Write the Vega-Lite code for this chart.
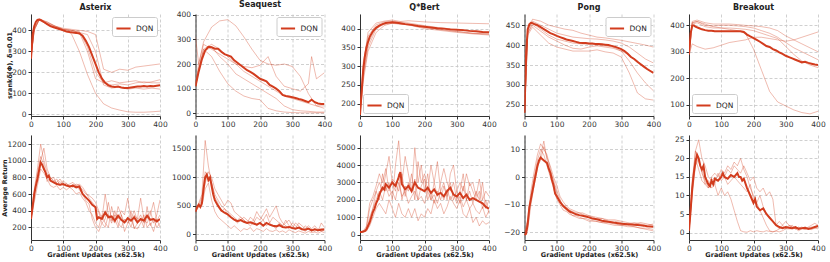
{
"$schema": "https://vega.github.io/schema/vega-lite/v6.json",
"padding": {"left": 1, "top": 0, "right": 2, "bottom": 1},
"background": "white",
"bounds": "flush",
"columns": 5,
"spacing": {"row": 19, "column": 35.5},
"resolve": {"scale": {"color": "independent"}, "legend": {"color": "independent"}},
"config": {
  "font": "DejaVu Sans",
  "view": {"stroke": null},
  "axis": {"labelFontSize": 7.5, "labelColor": "#333", "domainColor": "#333", "tickColor": "#333", "tickSize": 3, "gridColor": "#c4c4c4", "gridDash": [3, 2], "gridWidth": 0.8, "titleFontSize": 6.5, "titleFontWeight": "bold", "titleColor": "#222", "labelPadding": 2, "labelFlush": false, "labelOverlap": false, "format": "d", "titlePadding": 3},
  "axisX": {"titlePadding": 0, "labelPadding": 1},
  "title": {"fontSize": 8, "fontWeight": "bold", "offset": 2, "color": "#222"},
  "legend": {"title": null, "strokeColor": "#cccccc", "fillColor": "white", "padding": 3, "cornerRadius": 2, "symbolType": "stroke", "symbolStrokeWidth": 2, "symbolSize": 200, "labelFontSize": 7.5, "labelColor": "#222", "offset": 3, "rowPadding": 0}
},
"datasets": {
"a1": [
{"s":0,"x":0,"y":265},{"s":0,"x":5,"y":380},{"s":0,"x":10,"y":420},{"s":0,"x":15,"y":440},{"s":0,"x":20,"y":450},{"s":0,"x":25,"y":452},{"s":0,"x":30,"y":450},{"s":0,"x":40,"y":440},{"s":0,"x":50,"y":430},{"s":0,"x":60,"y":420},{"s":0,"x":70,"y":415},{"s":0,"x":80,"y":410},{"s":0,"x":90,"y":405},{"s":0,"x":100,"y":400},{"s":0,"x":110,"y":395},{"s":0,"x":120,"y":392},{"s":0,"x":130,"y":390},{"s":0,"x":140,"y":388},{"s":0,"x":150,"y":385},{"s":0,"x":160,"y":375},{"s":0,"x":170,"y":350},{"s":0,"x":180,"y":320},{"s":0,"x":190,"y":280},{"s":0,"x":200,"y":240},{"s":0,"x":210,"y":200},{"s":0,"x":220,"y":170},{"s":0,"x":230,"y":150},{"s":0,"x":240,"y":138},{"s":0,"x":250,"y":133},{"s":0,"x":260,"y":130},{"s":0,"x":270,"y":132},{"s":0,"x":280,"y":128},{"s":0,"x":290,"y":125},{"s":0,"x":300,"y":125},{"s":0,"x":310,"y":128},{"s":0,"x":320,"y":130},{"s":0,"x":330,"y":132},{"s":0,"x":340,"y":133},{"s":0,"x":350,"y":135},{"s":0,"x":360,"y":133},{"s":0,"x":370,"y":135},{"s":0,"x":380,"y":134},{"s":0,"x":390,"y":136},{"s":0,"x":400,"y":138},
{"s":1,"x":0,"y":270},{"s":1,"x":10,"y":400},{"s":1,"x":25,"y":450},{"s":1,"x":50,"y":430},{"s":1,"x":75,"y":415},{"s":1,"x":100,"y":400},{"s":1,"x":125,"y":385},{"s":1,"x":150,"y":300},{"s":1,"x":175,"y":190},{"s":1,"x":200,"y":100},{"s":1,"x":225,"y":50},{"s":1,"x":250,"y":30},{"s":1,"x":275,"y":20},{"s":1,"x":300,"y":12},{"s":1,"x":325,"y":10},{"s":1,"x":350,"y":10},{"s":1,"x":375,"y":12},{"s":1,"x":400,"y":15},
{"s":2,"x":0,"y":270},{"s":2,"x":10,"y":410},{"s":2,"x":25,"y":455},{"s":2,"x":50,"y":440},{"s":2,"x":75,"y":420},{"s":2,"x":100,"y":405},{"s":2,"x":125,"y":400},{"s":2,"x":150,"y":390},{"s":2,"x":175,"y":300},{"s":2,"x":200,"y":170},{"s":2,"x":225,"y":150},{"s":2,"x":250,"y":160},{"s":2,"x":275,"y":150},{"s":2,"x":300,"y":155},{"s":2,"x":325,"y":160},{"s":2,"x":350,"y":150},{"s":2,"x":375,"y":155},{"s":2,"x":400,"y":165},
{"s":3,"x":0,"y":270},{"s":3,"x":10,"y":400},{"s":3,"x":25,"y":450},{"s":3,"x":50,"y":435},{"s":3,"x":75,"y":420},{"s":3,"x":100,"y":410},{"s":3,"x":125,"y":405},{"s":3,"x":150,"y":400},{"s":3,"x":175,"y":395},{"s":3,"x":200,"y":380},{"s":3,"x":225,"y":215},{"s":3,"x":250,"y":200},{"s":3,"x":275,"y":215},{"s":3,"x":300,"y":210},{"s":3,"x":325,"y":225},{"s":3,"x":350,"y":230},{"s":3,"x":375,"y":235},{"s":3,"x":400,"y":240},
{"s":4,"x":0,"y":270},{"s":4,"x":10,"y":405},{"s":4,"x":25,"y":448},{"s":4,"x":50,"y":430},{"s":4,"x":75,"y":415},{"s":4,"x":100,"y":405},{"s":4,"x":125,"y":400},{"s":4,"x":150,"y":390},{"s":4,"x":175,"y":380},{"s":4,"x":200,"y":300},{"s":4,"x":225,"y":140},{"s":4,"x":250,"y":125},{"s":4,"x":275,"y":130},{"s":4,"x":300,"y":120},{"s":4,"x":325,"y":125},{"s":4,"x":350,"y":120},{"s":4,"x":375,"y":125},{"s":4,"x":400,"y":120},
{"s":5,"x":0,"y":270},{"s":5,"x":10,"y":410},{"s":5,"x":25,"y":452},{"s":5,"x":50,"y":440},{"s":5,"x":75,"y":420},{"s":5,"x":100,"y":405},{"s":5,"x":125,"y":400},{"s":5,"x":150,"y":395},{"s":5,"x":175,"y":320},{"s":5,"x":200,"y":200},{"s":5,"x":225,"y":150},{"s":5,"x":250,"y":140},{"s":5,"x":275,"y":145},{"s":5,"x":300,"y":140},{"s":5,"x":325,"y":150},{"s":5,"x":350,"y":155},{"s":5,"x":375,"y":150},{"s":5,"x":400,"y":150}
],
"a2": [
{"s":0,"x":0,"y":110},{"s":0,"x":10,"y":170},{"s":0,"x":20,"y":220},{"s":0,"x":30,"y":255},{"s":0,"x":40,"y":270},{"s":0,"x":50,"y":268},{"s":0,"x":60,"y":262},{"s":0,"x":70,"y":262},{"s":0,"x":80,"y":250},{"s":0,"x":90,"y":240},{"s":0,"x":100,"y":235},{"s":0,"x":110,"y":230},{"s":0,"x":120,"y":215},{"s":0,"x":130,"y":205},{"s":0,"x":140,"y":195},{"s":0,"x":150,"y":185},{"s":0,"x":160,"y":175},{"s":0,"x":170,"y":168},{"s":0,"x":180,"y":160},{"s":0,"x":190,"y":150},{"s":0,"x":200,"y":140},{"s":0,"x":210,"y":135},{"s":0,"x":220,"y":130},{"s":0,"x":230,"y":115},{"s":0,"x":240,"y":108},{"s":0,"x":250,"y":100},{"s":0,"x":260,"y":90},{"s":0,"x":270,"y":75},{"s":0,"x":280,"y":70},{"s":0,"x":290,"y":68},{"s":0,"x":300,"y":65},{"s":0,"x":310,"y":62},{"s":0,"x":320,"y":58},{"s":0,"x":330,"y":55},{"s":0,"x":340,"y":50},{"s":0,"x":350,"y":45},{"s":0,"x":360,"y":55},{"s":0,"x":370,"y":45},{"s":0,"x":380,"y":40},{"s":0,"x":390,"y":38},{"s":0,"x":400,"y":38},
{"s":1,"x":0,"y":120},{"s":1,"x":10,"y":200},{"s":1,"x":25,"y":290},{"s":1,"x":50,"y":350},{"s":1,"x":75,"y":375},{"s":1,"x":100,"y":380},{"s":1,"x":125,"y":355},{"s":1,"x":150,"y":310},{"s":1,"x":175,"y":260},{"s":1,"x":200,"y":215},{"s":1,"x":225,"y":200},{"s":1,"x":250,"y":195},{"s":1,"x":275,"y":200},{"s":1,"x":300,"y":190},{"s":1,"x":325,"y":150},{"s":1,"x":350,"y":80},{"s":1,"x":375,"y":30},{"s":1,"x":400,"y":20},
{"s":2,"x":0,"y":310},{"s":2,"x":10,"y":200},{"s":2,"x":25,"y":280},{"s":2,"x":50,"y":260},{"s":2,"x":75,"y":240},{"s":2,"x":100,"y":220},{"s":2,"x":125,"y":200},{"s":2,"x":150,"y":190},{"s":2,"x":175,"y":185},{"s":2,"x":200,"y":195},{"s":2,"x":225,"y":230},{"s":2,"x":250,"y":150},{"s":2,"x":275,"y":110},{"s":2,"x":300,"y":100},{"s":2,"x":325,"y":90},{"s":2,"x":350,"y":120},{"s":2,"x":360,"y":230},{"s":2,"x":375,"y":140},{"s":2,"x":400,"y":165},
{"s":3,"x":0,"y":110},{"s":3,"x":10,"y":180},{"s":3,"x":25,"y":260},{"s":3,"x":50,"y":230},{"s":3,"x":75,"y":170},{"s":3,"x":100,"y":120},{"s":3,"x":125,"y":90},{"s":3,"x":150,"y":70},{"s":3,"x":175,"y":60},{"s":3,"x":200,"y":55},{"s":3,"x":225,"y":20},{"s":3,"x":250,"y":10},{"s":3,"x":275,"y":5},{"s":3,"x":300,"y":3},{"s":3,"x":325,"y":2},{"s":3,"x":350,"y":2},{"s":3,"x":375,"y":2},{"s":3,"x":400,"y":2},
{"s":4,"x":0,"y":110},{"s":4,"x":10,"y":170},{"s":4,"x":25,"y":250},{"s":4,"x":50,"y":270},{"s":4,"x":75,"y":230},{"s":4,"x":100,"y":200},{"s":4,"x":125,"y":160},{"s":4,"x":150,"y":140},{"s":4,"x":175,"y":120},{"s":4,"x":200,"y":100},{"s":4,"x":225,"y":80},{"s":4,"x":250,"y":60},{"s":4,"x":275,"y":30},{"s":4,"x":300,"y":15},{"s":4,"x":325,"y":10},{"s":4,"x":350,"y":8},{"s":4,"x":375,"y":5},{"s":4,"x":400,"y":5},
{"s":5,"x":0,"y":110},{"s":5,"x":10,"y":180},{"s":5,"x":25,"y":260},{"s":5,"x":50,"y":280},{"s":5,"x":75,"y":260},{"s":5,"x":100,"y":230},{"s":5,"x":125,"y":200},{"s":5,"x":150,"y":170},{"s":5,"x":175,"y":150},{"s":5,"x":200,"y":130},{"s":5,"x":225,"y":110},{"s":5,"x":250,"y":90},{"s":5,"x":275,"y":70},{"s":5,"x":300,"y":60},{"s":5,"x":325,"y":50},{"s":5,"x":350,"y":40},{"s":5,"x":375,"y":30},{"s":5,"x":400,"y":30}
],
"a3": [
{"s":0,"x":0,"y":170},{"s":0,"x":5,"y":230},{"s":0,"x":10,"y":290},{"s":0,"x":15,"y":325},{"s":0,"x":20,"y":350},{"s":0,"x":25,"y":365},{"s":0,"x":30,"y":378},{"s":0,"x":40,"y":393},{"s":0,"x":50,"y":402},{"s":0,"x":60,"y":408},{"s":0,"x":70,"y":412},{"s":0,"x":80,"y":415},{"s":0,"x":90,"y":416},{"s":0,"x":100,"y":417},{"s":0,"x":120,"y":415},{"s":0,"x":140,"y":412},{"s":0,"x":160,"y":410},{"s":0,"x":180,"y":407},{"s":0,"x":200,"y":405},{"s":0,"x":220,"y":403},{"s":0,"x":240,"y":401},{"s":0,"x":260,"y":400},{"s":0,"x":280,"y":398},{"s":0,"x":300,"y":397},{"s":0,"x":320,"y":396},{"s":0,"x":340,"y":394},{"s":0,"x":360,"y":393},{"s":0,"x":380,"y":391},{"s":0,"x":400,"y":390},
{"s":1,"x":0,"y":175},{"s":1,"x":10,"y":300},{"s":1,"x":25,"y":390},{"s":1,"x":50,"y":415},{"s":1,"x":75,"y":420},{"s":1,"x":100,"y":423},{"s":1,"x":125,"y":419},{"s":1,"x":150,"y":421},{"s":1,"x":200,"y":418},{"s":1,"x":250,"y":416},{"s":1,"x":300,"y":415},{"s":1,"x":350,"y":414},{"s":1,"x":400,"y":413},
{"s":2,"x":0,"y":175},{"s":2,"x":10,"y":280},{"s":2,"x":25,"y":360},{"s":2,"x":50,"y":405},{"s":2,"x":75,"y":415},{"s":2,"x":100,"y":418},{"s":2,"x":150,"y":412},{"s":2,"x":200,"y":405},{"s":2,"x":250,"y":398},{"s":2,"x":300,"y":393},{"s":2,"x":350,"y":388},{"s":2,"x":400,"y":385},
{"s":3,"x":0,"y":170},{"s":3,"x":10,"y":260},{"s":3,"x":25,"y":340},{"s":3,"x":50,"y":390},{"s":3,"x":75,"y":408},{"s":3,"x":100,"y":415},{"s":3,"x":150,"y":410},{"s":3,"x":200,"y":400},{"s":3,"x":250,"y":395},{"s":3,"x":300,"y":390},{"s":3,"x":350,"y":386},{"s":3,"x":400,"y":383},
{"s":4,"x":0,"y":175},{"s":4,"x":10,"y":310},{"s":4,"x":25,"y":380},{"s":4,"x":50,"y":410},{"s":4,"x":75,"y":418},{"s":4,"x":100,"y":420},{"s":4,"x":150,"y":415},{"s":4,"x":200,"y":408},{"s":4,"x":250,"y":402},{"s":4,"x":300,"y":398},{"s":4,"x":350,"y":393},{"s":4,"x":400,"y":390},
{"s":5,"x":0,"y":170},{"s":5,"x":10,"y":270},{"s":5,"x":25,"y":350},{"s":5,"x":50,"y":400},{"s":5,"x":75,"y":412},{"s":5,"x":100,"y":414},{"s":5,"x":150,"y":410},{"s":5,"x":200,"y":403},{"s":5,"x":250,"y":397},{"s":5,"x":300,"y":392},{"s":5,"x":350,"y":387},{"s":5,"x":400,"y":386}
],
"a4": [
{"s":0,"x":0,"y":230},{"s":0,"x":5,"y":380},{"s":0,"x":10,"y":440},{"s":0,"x":15,"y":452},{"s":0,"x":20,"y":456},{"s":0,"x":25,"y":455},{"s":0,"x":30,"y":453},{"s":0,"x":40,"y":450},{"s":0,"x":50,"y":445},{"s":0,"x":60,"y":440},{"s":0,"x":70,"y":435},{"s":0,"x":80,"y":430},{"s":0,"x":90,"y":427},{"s":0,"x":100,"y":423},{"s":0,"x":110,"y":420},{"s":0,"x":120,"y":417},{"s":0,"x":130,"y":414},{"s":0,"x":140,"y":412},{"s":0,"x":150,"y":410},{"s":0,"x":160,"y":408},{"s":0,"x":170,"y":406},{"s":0,"x":180,"y":405},{"s":0,"x":190,"y":405},{"s":0,"x":200,"y":404},{"s":0,"x":210,"y":404},{"s":0,"x":220,"y":403},{"s":0,"x":230,"y":403},{"s":0,"x":240,"y":402},{"s":0,"x":250,"y":401},{"s":0,"x":260,"y":400},{"s":0,"x":270,"y":398},{"s":0,"x":280,"y":396},{"s":0,"x":290,"y":393},{"s":0,"x":300,"y":390},{"s":0,"x":310,"y":385},{"s":0,"x":320,"y":378},{"s":0,"x":330,"y":370},{"s":0,"x":340,"y":365},{"s":0,"x":350,"y":358},{"s":0,"x":360,"y":352},{"s":0,"x":370,"y":346},{"s":0,"x":380,"y":340},{"s":0,"x":390,"y":335},{"s":0,"x":400,"y":330},
{"s":1,"x":0,"y":230},{"s":1,"x":10,"y":440},{"s":1,"x":25,"y":465},{"s":1,"x":50,"y":460},{"s":1,"x":75,"y":450},{"s":1,"x":100,"y":445},{"s":1,"x":125,"y":440},{"s":1,"x":150,"y":437},{"s":1,"x":175,"y":430},{"s":1,"x":200,"y":425},{"s":1,"x":225,"y":420},{"s":1,"x":250,"y":418},{"s":1,"x":275,"y":415},{"s":1,"x":300,"y":412},{"s":1,"x":325,"y":408},{"s":1,"x":350,"y":404},{"s":1,"x":375,"y":400},{"s":1,"x":400,"y":395},
{"s":2,"x":0,"y":230},{"s":2,"x":10,"y":435},{"s":2,"x":25,"y":460},{"s":2,"x":50,"y":450},{"s":2,"x":75,"y":440},{"s":2,"x":100,"y":430},{"s":2,"x":125,"y":425},{"s":2,"x":150,"y":420},{"s":2,"x":175,"y":418},{"s":2,"x":200,"y":416},{"s":2,"x":225,"y":415},{"s":2,"x":250,"y":413},{"s":2,"x":275,"y":410},{"s":2,"x":300,"y":405},{"s":2,"x":325,"y":395},{"s":2,"x":350,"y":380},{"s":2,"x":375,"y":365},{"s":2,"x":400,"y":355},
{"s":3,"x":0,"y":230},{"s":3,"x":10,"y":430},{"s":3,"x":25,"y":455},{"s":3,"x":50,"y":440},{"s":3,"x":75,"y":425},{"s":3,"x":100,"y":415},{"s":3,"x":125,"y":410},{"s":3,"x":150,"y":405},{"s":3,"x":175,"y":403},{"s":3,"x":200,"y":402},{"s":3,"x":225,"y":400},{"s":3,"x":250,"y":398},{"s":3,"x":275,"y":395},{"s":3,"x":300,"y":385},{"s":3,"x":325,"y":360},{"s":3,"x":350,"y":330},{"s":3,"x":375,"y":305},{"s":3,"x":400,"y":285},
{"s":4,"x":0,"y":230},{"s":4,"x":10,"y":425},{"s":4,"x":25,"y":445},{"s":4,"x":50,"y":425},{"s":4,"x":75,"y":405},{"s":4,"x":100,"y":395},{"s":4,"x":125,"y":390},{"s":4,"x":150,"y":385},{"s":4,"x":175,"y":385},{"s":4,"x":200,"y":385},{"s":4,"x":225,"y":388},{"s":4,"x":250,"y":383},{"s":4,"x":275,"y":380},{"s":4,"x":300,"y":370},{"s":4,"x":325,"y":330},{"s":4,"x":350,"y":280},{"s":4,"x":375,"y":265},{"s":4,"x":400,"y":262},
{"s":5,"x":0,"y":230},{"s":5,"x":10,"y":430},{"s":5,"x":25,"y":450},{"s":5,"x":50,"y":435},{"s":5,"x":75,"y":420},{"s":5,"x":100,"y":410},{"s":5,"x":125,"y":400},{"s":5,"x":150,"y":392},{"s":5,"x":175,"y":390},{"s":5,"x":200,"y":395},{"s":5,"x":225,"y":398},{"s":5,"x":250,"y":395},{"s":5,"x":275,"y":392},{"s":5,"x":300,"y":385},{"s":5,"x":325,"y":375},{"s":5,"x":350,"y":360},{"s":5,"x":375,"y":345},{"s":5,"x":400,"y":330}
],
"a5": [
{"s":0,"x":0,"y":290},{"s":0,"x":5,"y":370},{"s":0,"x":10,"y":398},{"s":0,"x":15,"y":400},{"s":0,"x":20,"y":395},{"s":0,"x":30,"y":390},{"s":0,"x":40,"y":385},{"s":0,"x":50,"y":382},{"s":0,"x":60,"y":380},{"s":0,"x":70,"y":380},{"s":0,"x":80,"y":378},{"s":0,"x":90,"y":378},{"s":0,"x":100,"y":378},{"s":0,"x":110,"y":378},{"s":0,"x":120,"y":378},{"s":0,"x":130,"y":378},{"s":0,"x":140,"y":378},{"s":0,"x":150,"y":378},{"s":0,"x":160,"y":378},{"s":0,"x":170,"y":375},{"s":0,"x":180,"y":365},{"s":0,"x":190,"y":358},{"s":0,"x":200,"y":352},{"s":0,"x":210,"y":345},{"s":0,"x":220,"y":338},{"s":0,"x":230,"y":330},{"s":0,"x":240,"y":322},{"s":0,"x":250,"y":318},{"s":0,"x":260,"y":310},{"s":0,"x":270,"y":305},{"s":0,"x":280,"y":298},{"s":0,"x":290,"y":292},{"s":0,"x":300,"y":285},{"s":0,"x":310,"y":280},{"s":0,"x":320,"y":275},{"s":0,"x":330,"y":270},{"s":0,"x":340,"y":265},{"s":0,"x":350,"y":260},{"s":0,"x":360,"y":262},{"s":0,"x":370,"y":258},{"s":0,"x":380,"y":255},{"s":0,"x":390,"y":252},{"s":0,"x":400,"y":250},
{"s":1,"x":0,"y":290},{"s":1,"x":10,"y":410},{"s":1,"x":25,"y":415},{"s":1,"x":50,"y":405},{"s":1,"x":75,"y":395},{"s":1,"x":100,"y":390},{"s":1,"x":125,"y":385},{"s":1,"x":150,"y":380},{"s":1,"x":175,"y":370},{"s":1,"x":200,"y":310},{"s":1,"x":225,"y":230},{"s":1,"x":250,"y":150},{"s":1,"x":275,"y":110},{"s":1,"x":300,"y":95},{"s":1,"x":325,"y":80},{"s":1,"x":350,"y":70},{"s":1,"x":375,"y":65},{"s":1,"x":400,"y":75},
{"s":2,"x":0,"y":290},{"s":2,"x":10,"y":330},{"s":2,"x":25,"y":320},{"s":2,"x":50,"y":310},{"s":2,"x":75,"y":315},{"s":2,"x":100,"y":325},{"s":2,"x":125,"y":335},{"s":2,"x":150,"y":340},{"s":2,"x":175,"y":345},{"s":2,"x":200,"y":355},{"s":2,"x":225,"y":355},{"s":2,"x":250,"y":350},{"s":2,"x":275,"y":345},{"s":2,"x":300,"y":340},{"s":2,"x":325,"y":345},{"s":2,"x":350,"y":355},{"s":2,"x":375,"y":365},{"s":2,"x":400,"y":375},
{"s":3,"x":0,"y":290},{"s":3,"x":10,"y":415},{"s":3,"x":25,"y":420},{"s":3,"x":50,"y":410},{"s":3,"x":75,"y":405},{"s":3,"x":100,"y":405},{"s":3,"x":125,"y":405},{"s":3,"x":150,"y":403},{"s":3,"x":175,"y":400},{"s":3,"x":200,"y":398},{"s":3,"x":225,"y":395},{"s":3,"x":250,"y":390},{"s":3,"x":275,"y":380},{"s":3,"x":300,"y":360},{"s":3,"x":325,"y":345},{"s":3,"x":350,"y":330},{"s":3,"x":375,"y":315},{"s":3,"x":400,"y":300},
{"s":4,"x":0,"y":290},{"s":4,"x":10,"y":405},{"s":4,"x":25,"y":410},{"s":4,"x":50,"y":395},{"s":4,"x":75,"y":390},{"s":4,"x":100,"y":390},{"s":4,"x":125,"y":390},{"s":4,"x":150,"y":388},{"s":4,"x":175,"y":385},{"s":4,"x":200,"y":380},{"s":4,"x":225,"y":370},{"s":4,"x":250,"y":360},{"s":4,"x":275,"y":350},{"s":4,"x":300,"y":320},{"s":4,"x":325,"y":290},{"s":4,"x":350,"y":265},{"s":4,"x":375,"y":250},{"s":4,"x":400,"y":240},
{"s":5,"x":0,"y":290},{"s":5,"x":10,"y":410},{"s":5,"x":25,"y":415},{"s":5,"x":50,"y":400},{"s":5,"x":75,"y":398},{"s":5,"x":100,"y":400},{"s":5,"x":125,"y":400},{"s":5,"x":150,"y":398},{"s":5,"x":175,"y":395},{"s":5,"x":200,"y":390},{"s":5,"x":225,"y":380},{"s":5,"x":250,"y":370},{"s":5,"x":275,"y":355},{"s":5,"x":300,"y":335},{"s":5,"x":325,"y":315},{"s":5,"x":350,"y":300},{"s":5,"x":375,"y":285},{"s":5,"x":400,"y":270}
],
"b1": [
{"s":0,"x":0,"y":300},{"s":0,"x":5,"y":450},{"s":0,"x":10,"y":600},{"s":0,"x":15,"y":700},{"s":0,"x":20,"y":780},{"s":0,"x":25,"y":880},{"s":0,"x":30,"y":980},{"s":0,"x":35,"y":950},{"s":0,"x":40,"y":900},{"s":0,"x":45,"y":860},{"s":0,"x":50,"y":800},{"s":0,"x":55,"y":820},{"s":0,"x":60,"y":760},{"s":0,"x":70,"y":740},{"s":0,"x":80,"y":720},{"s":0,"x":90,"y":710},{"s":0,"x":100,"y":720},{"s":0,"x":110,"y":700},{"s":0,"x":120,"y":690},{"s":0,"x":130,"y":700},{"s":0,"x":140,"y":680},{"s":0,"x":150,"y":690},{"s":0,"x":160,"y":600},{"s":0,"x":170,"y":560},{"s":0,"x":180,"y":520},{"s":0,"x":190,"y":470},{"s":0,"x":200,"y":440},{"s":0,"x":205,"y":300},{"s":0,"x":210,"y":320},{"s":0,"x":220,"y":300},{"s":0,"x":230,"y":380},{"s":0,"x":240,"y":320},{"s":0,"x":250,"y":330},{"s":0,"x":260,"y":280},{"s":0,"x":270,"y":340},{"s":0,"x":280,"y":290},{"s":0,"x":290,"y":260},{"s":0,"x":300,"y":310},{"s":0,"x":310,"y":280},{"s":0,"x":320,"y":320},{"s":0,"x":330,"y":260},{"s":0,"x":340,"y":300},{"s":0,"x":350,"y":280},{"s":0,"x":360,"y":340},{"s":0,"x":370,"y":290},{"s":0,"x":380,"y":300},{"s":0,"x":390,"y":270},{"s":0,"x":400,"y":300},
{"s":1,"x":0,"y":300},{"s":1,"x":10,"y":650},{"s":1,"x":20,"y":900},{"s":1,"x":30,"y":1200},{"s":1,"x":40,"y":1000},{"s":1,"x":50,"y":850},{"s":1,"x":60,"y":780},{"s":1,"x":70,"y":800},{"s":1,"x":80,"y":720},{"s":1,"x":90,"y":750},{"s":1,"x":100,"y":700},{"s":1,"x":110,"y":730},{"s":1,"x":120,"y":680},{"s":1,"x":130,"y":720},{"s":1,"x":140,"y":700},{"s":1,"x":150,"y":650},{"s":1,"x":160,"y":600},{"s":1,"x":170,"y":520},{"s":1,"x":180,"y":480},{"s":1,"x":190,"y":300},{"s":1,"x":200,"y":200},{"s":1,"x":210,"y":150},{"s":1,"x":220,"y":250},{"s":1,"x":230,"y":200},{"s":1,"x":240,"y":350},{"s":1,"x":250,"y":250},{"s":1,"x":260,"y":400},{"s":1,"x":270,"y":250},{"s":1,"x":280,"y":200},{"s":1,"x":290,"y":300},{"s":1,"x":300,"y":250},{"s":1,"x":310,"y":400},{"s":1,"x":320,"y":180},{"s":1,"x":330,"y":250},{"s":1,"x":340,"y":300},{"s":1,"x":350,"y":200},{"s":1,"x":360,"y":450},{"s":1,"x":370,"y":220},{"s":1,"x":380,"y":300},{"s":1,"x":390,"y":200},{"s":1,"x":400,"y":250},
{"s":2,"x":0,"y":300},{"s":2,"x":10,"y":550},{"s":2,"x":20,"y":800},{"s":2,"x":30,"y":1000},{"s":2,"x":40,"y":1150},{"s":2,"x":50,"y":900},{"s":2,"x":60,"y":800},{"s":2,"x":70,"y":750},{"s":2,"x":80,"y":780},{"s":2,"x":90,"y":700},{"s":2,"x":100,"y":760},{"s":2,"x":110,"y":720},{"s":2,"x":120,"y":700},{"s":2,"x":130,"y":680},{"s":2,"x":140,"y":720},{"s":2,"x":150,"y":700},{"s":2,"x":160,"y":650},{"s":2,"x":170,"y":600},{"s":2,"x":180,"y":580},{"s":2,"x":190,"y":550},{"s":2,"x":200,"y":500},{"s":2,"x":210,"y":400},{"s":2,"x":220,"y":300},{"s":2,"x":230,"y":600},{"s":2,"x":240,"y":350},{"s":2,"x":250,"y":300},{"s":2,"x":260,"y":250},{"s":2,"x":270,"y":450},{"s":2,"x":280,"y":350},{"s":2,"x":290,"y":250},{"s":2,"x":300,"y":300},{"s":2,"x":310,"y":200},{"s":2,"x":320,"y":350},{"s":2,"x":330,"y":300},{"s":2,"x":340,"y":550},{"s":2,"x":350,"y":300},{"s":2,"x":360,"y":250},{"s":2,"x":370,"y":350},{"s":2,"x":380,"y":500},{"s":2,"x":390,"y":280},{"s":2,"x":400,"y":350},
{"s":3,"x":0,"y":300},{"s":3,"x":10,"y":500},{"s":3,"x":20,"y":700},{"s":3,"x":30,"y":900},{"s":3,"x":40,"y":850},{"s":3,"x":50,"y":780},{"s":3,"x":60,"y":700},{"s":3,"x":70,"y":680},{"s":3,"x":80,"y":700},{"s":3,"x":90,"y":650},{"s":3,"x":100,"y":680},{"s":3,"x":110,"y":650},{"s":3,"x":120,"y":680},{"s":3,"x":130,"y":650},{"s":3,"x":140,"y":600},{"s":3,"x":150,"y":620},{"s":3,"x":160,"y":550},{"s":3,"x":170,"y":500},{"s":3,"x":180,"y":400},{"s":3,"x":190,"y":350},{"s":3,"x":200,"y":250},{"s":3,"x":210,"y":200},{"s":3,"x":220,"y":350},{"s":3,"x":230,"y":250},{"s":3,"x":240,"y":200},{"s":3,"x":250,"y":450},{"s":3,"x":260,"y":300},{"s":3,"x":270,"y":200},{"s":3,"x":280,"y":350},{"s":3,"x":290,"y":150},{"s":3,"x":300,"y":250},{"s":3,"x":310,"y":300},{"s":3,"x":320,"y":200},{"s":3,"x":330,"y":180},{"s":3,"x":340,"y":250},{"s":3,"x":350,"y":350},{"s":3,"x":360,"y":200},{"s":3,"x":370,"y":250},{"s":3,"x":380,"y":150},{"s":3,"x":390,"y":300},{"s":3,"x":400,"y":200},
{"s":4,"x":0,"y":300},{"s":4,"x":10,"y":600},{"s":4,"x":20,"y":850},{"s":4,"x":30,"y":1050},{"s":4,"x":40,"y":950},{"s":4,"x":50,"y":750},{"s":4,"x":60,"y":800},{"s":4,"x":70,"y":760},{"s":4,"x":80,"y":740},{"s":4,"x":90,"y":780},{"s":4,"x":100,"y":720},{"s":4,"x":110,"y":700},{"s":4,"x":120,"y":720},{"s":4,"x":130,"y":740},{"s":4,"x":140,"y":700},{"s":4,"x":150,"y":720},{"s":4,"x":160,"y":680},{"s":4,"x":170,"y":620},{"s":4,"x":180,"y":550},{"s":4,"x":190,"y":500},{"s":4,"x":200,"y":450},{"s":4,"x":210,"y":380},{"s":4,"x":220,"y":250},{"s":4,"x":230,"y":300},{"s":4,"x":240,"y":500},{"s":4,"x":250,"y":280},{"s":4,"x":260,"y":350},{"s":4,"x":270,"y":300},{"s":4,"x":280,"y":400},{"s":4,"x":290,"y":350},{"s":4,"x":300,"y":550},{"s":4,"x":310,"y":300},{"s":4,"x":320,"y":400},{"s":4,"x":330,"y":280},{"s":4,"x":340,"y":350},{"s":4,"x":350,"y":250},{"s":4,"x":360,"y":300},{"s":4,"x":370,"y":400},{"s":4,"x":380,"y":250},{"s":4,"x":390,"y":350},{"s":4,"x":400,"y":530}
],
"b2": [
{"s":0,"x":0,"y":400},{"s":0,"x":5,"y":480},{"s":0,"x":10,"y":520},{"s":0,"x":15,"y":480},{"s":0,"x":20,"y":550},{"s":0,"x":25,"y":800},{"s":0,"x":30,"y":1000},{"s":0,"x":35,"y":1050},{"s":0,"x":40,"y":950},{"s":0,"x":45,"y":1000},{"s":0,"x":50,"y":850},{"s":0,"x":55,"y":700},{"s":0,"x":60,"y":600},{"s":0,"x":70,"y":500},{"s":0,"x":80,"y":420},{"s":0,"x":90,"y":380},{"s":0,"x":100,"y":350},{"s":0,"x":110,"y":300},{"s":0,"x":120,"y":260},{"s":0,"x":130,"y":230},{"s":0,"x":140,"y":250},{"s":0,"x":150,"y":220},{"s":0,"x":160,"y":200},{"s":0,"x":170,"y":210},{"s":0,"x":180,"y":190},{"s":0,"x":190,"y":170},{"s":0,"x":200,"y":200},{"s":0,"x":210,"y":150},{"s":0,"x":220,"y":200},{"s":0,"x":230,"y":170},{"s":0,"x":240,"y":150},{"s":0,"x":250,"y":140},{"s":0,"x":260,"y":160},{"s":0,"x":270,"y":130},{"s":0,"x":280,"y":120},{"s":0,"x":290,"y":130},{"s":0,"x":300,"y":110},{"s":0,"x":310,"y":100},{"s":0,"x":320,"y":120},{"s":0,"x":330,"y":90},{"s":0,"x":340,"y":80},{"s":0,"x":350,"y":100},{"s":0,"x":360,"y":70},{"s":0,"x":370,"y":90},{"s":0,"x":380,"y":70},{"s":0,"x":390,"y":80},{"s":0,"x":400,"y":85},
{"s":1,"x":0,"y":400},{"s":1,"x":10,"y":550},{"s":1,"x":20,"y":700},{"s":1,"x":30,"y":1650},{"s":1,"x":40,"y":1200},{"s":1,"x":50,"y":900},{"s":1,"x":60,"y":700},{"s":1,"x":70,"y":600},{"s":1,"x":80,"y":500},{"s":1,"x":90,"y":450},{"s":1,"x":100,"y":400},{"s":1,"x":110,"y":350},{"s":1,"x":120,"y":300},{"s":1,"x":130,"y":250},{"s":1,"x":140,"y":300},{"s":1,"x":150,"y":250},{"s":1,"x":160,"y":200},{"s":1,"x":170,"y":300},{"s":1,"x":180,"y":250},{"s":1,"x":190,"y":400},{"s":1,"x":200,"y":300},{"s":1,"x":210,"y":250},{"s":1,"x":220,"y":350},{"s":1,"x":230,"y":200},{"s":1,"x":240,"y":300},{"s":1,"x":250,"y":250},{"s":1,"x":260,"y":200},{"s":1,"x":270,"y":150},{"s":1,"x":280,"y":200},{"s":1,"x":290,"y":250},{"s":1,"x":300,"y":150},{"s":1,"x":310,"y":100},{"s":1,"x":320,"y":200},{"s":1,"x":330,"y":150},{"s":1,"x":340,"y":100},{"s":1,"x":350,"y":150},{"s":1,"x":360,"y":100},{"s":1,"x":370,"y":150},{"s":1,"x":380,"y":80},{"s":1,"x":390,"y":100},{"s":1,"x":400,"y":100},
{"s":2,"x":0,"y":400},{"s":2,"x":10,"y":500},{"s":2,"x":20,"y":600},{"s":2,"x":30,"y":900},{"s":2,"x":40,"y":1100},{"s":2,"x":50,"y":1000},{"s":2,"x":60,"y":800},{"s":2,"x":70,"y":700},{"s":2,"x":80,"y":600},{"s":2,"x":90,"y":500},{"s":2,"x":100,"y":600},{"s":2,"x":110,"y":550},{"s":2,"x":120,"y":400},{"s":2,"x":130,"y":350},{"s":2,"x":140,"y":300},{"s":2,"x":150,"y":250},{"s":2,"x":160,"y":200},{"s":2,"x":170,"y":150},{"s":2,"x":180,"y":200},{"s":2,"x":190,"y":300},{"s":2,"x":200,"y":250},{"s":2,"x":210,"y":350},{"s":2,"x":220,"y":450},{"s":2,"x":230,"y":300},{"s":2,"x":240,"y":400},{"s":2,"x":250,"y":500},{"s":2,"x":260,"y":300},{"s":2,"x":270,"y":200},{"s":2,"x":280,"y":150},{"s":2,"x":290,"y":100},{"s":2,"x":300,"y":200},{"s":2,"x":310,"y":150},{"s":2,"x":320,"y":100},{"s":2,"x":330,"y":80},{"s":2,"x":340,"y":150},{"s":2,"x":350,"y":100},{"s":2,"x":360,"y":50},{"s":2,"x":370,"y":100},{"s":2,"x":380,"y":50},{"s":2,"x":390,"y":200},{"s":2,"x":400,"y":120},
{"s":3,"x":0,"y":400},{"s":3,"x":10,"y":480},{"s":3,"x":20,"y":500},{"s":3,"x":30,"y":800},{"s":3,"x":40,"y":900},{"s":3,"x":50,"y":600},{"s":3,"x":60,"y":400},{"s":3,"x":70,"y":300},{"s":3,"x":80,"y":250},{"s":3,"x":90,"y":200},{"s":3,"x":100,"y":150},{"s":3,"x":110,"y":100},{"s":3,"x":120,"y":150},{"s":3,"x":130,"y":100},{"s":3,"x":140,"y":50},{"s":3,"x":150,"y":100},{"s":3,"x":160,"y":80},{"s":3,"x":170,"y":120},{"s":3,"x":180,"y":50},{"s":3,"x":190,"y":100},{"s":3,"x":200,"y":80},{"s":3,"x":210,"y":50},{"s":3,"x":220,"y":100},{"s":3,"x":230,"y":60},{"s":3,"x":240,"y":50},{"s":3,"x":250,"y":80},{"s":3,"x":260,"y":40},{"s":3,"x":270,"y":60},{"s":3,"x":280,"y":30},{"s":3,"x":290,"y":80},{"s":3,"x":300,"y":50},{"s":3,"x":310,"y":30},{"s":3,"x":320,"y":60},{"s":3,"x":330,"y":40},{"s":3,"x":340,"y":20},{"s":3,"x":350,"y":50},{"s":3,"x":360,"y":30},{"s":3,"x":370,"y":40},{"s":3,"x":380,"y":20},{"s":3,"x":390,"y":50},{"s":3,"x":400,"y":30},
{"s":4,"x":0,"y":400},{"s":4,"x":10,"y":520},{"s":4,"x":20,"y":650},{"s":4,"x":30,"y":1100},{"s":4,"x":40,"y":1000},{"s":4,"x":50,"y":900},{"s":4,"x":60,"y":650},{"s":4,"x":70,"y":550},{"s":4,"x":80,"y":400},{"s":4,"x":90,"y":450},{"s":4,"x":100,"y":350},{"s":4,"x":110,"y":300},{"s":4,"x":120,"y":250},{"s":4,"x":130,"y":200},{"s":4,"x":140,"y":250},{"s":4,"x":150,"y":300},{"s":4,"x":160,"y":250},{"s":4,"x":170,"y":200},{"s":4,"x":180,"y":250},{"s":4,"x":190,"y":150},{"s":4,"x":200,"y":200},{"s":4,"x":210,"y":250},{"s":4,"x":220,"y":150},{"s":4,"x":230,"y":200},{"s":4,"x":240,"y":150},{"s":4,"x":250,"y":100},{"s":4,"x":260,"y":200},{"s":4,"x":270,"y":150},{"s":4,"x":280,"y":250},{"s":4,"x":290,"y":150},{"s":4,"x":300,"y":100},{"s":4,"x":310,"y":200},{"s":4,"x":320,"y":150},{"s":4,"x":330,"y":100},{"s":4,"x":340,"y":50},{"s":4,"x":350,"y":100},{"s":4,"x":360,"y":80},{"s":4,"x":370,"y":50},{"s":4,"x":380,"y":100},{"s":4,"x":390,"y":50},{"s":4,"x":400,"y":80}
],
"b3": [
{"s":0,"x":0,"y":150},{"s":0,"x":5,"y":150},{"s":0,"x":10,"y":180},{"s":0,"x":15,"y":200},{"s":0,"x":20,"y":300},{"s":0,"x":25,"y":500},{"s":0,"x":30,"y":700},{"s":0,"x":35,"y":1000},{"s":0,"x":40,"y":1300},{"s":0,"x":45,"y":1500},{"s":0,"x":50,"y":1800},{"s":0,"x":55,"y":2000},{"s":0,"x":60,"y":2300},{"s":0,"x":65,"y":2500},{"s":0,"x":70,"y":2700},{"s":0,"x":75,"y":2600},{"s":0,"x":80,"y":2900},{"s":0,"x":90,"y":2700},{"s":0,"x":100,"y":3000},{"s":0,"x":110,"y":2800},{"s":0,"x":120,"y":3300},{"s":0,"x":125,"y":3600},{"s":0,"x":130,"y":2900},{"s":0,"x":140,"y":2600},{"s":0,"x":150,"y":2800},{"s":0,"x":160,"y":2500},{"s":0,"x":170,"y":3000},{"s":0,"x":180,"y":2700},{"s":0,"x":190,"y":2600},{"s":0,"x":200,"y":2500},{"s":0,"x":210,"y":2700},{"s":0,"x":220,"y":2400},{"s":0,"x":230,"y":2600},{"s":0,"x":240,"y":2300},{"s":0,"x":250,"y":2400},{"s":0,"x":260,"y":2200},{"s":0,"x":270,"y":2500},{"s":0,"x":280,"y":2700},{"s":0,"x":290,"y":2300},{"s":0,"x":300,"y":2200},{"s":0,"x":310,"y":2400},{"s":0,"x":320,"y":2100},{"s":0,"x":330,"y":2300},{"s":0,"x":340,"y":2000},{"s":0,"x":350,"y":2100},{"s":0,"x":360,"y":2000},{"s":0,"x":370,"y":1900},{"s":0,"x":380,"y":1800},{"s":0,"x":390,"y":1600},{"s":0,"x":400,"y":1500},
{"s":1,"x":0,"y":150},{"s":1,"x":10,"y":200},{"s":1,"x":20,"y":400},{"s":1,"x":30,"y":1500},{"s":1,"x":40,"y":2000},{"s":1,"x":50,"y":2500},{"s":1,"x":60,"y":2000},{"s":1,"x":70,"y":3500},{"s":1,"x":80,"y":2500},{"s":1,"x":90,"y":3000},{"s":1,"x":100,"y":2000},{"s":1,"x":110,"y":4000},{"s":1,"x":120,"y":5400},{"s":1,"x":130,"y":3000},{"s":1,"x":140,"y":4500},{"s":1,"x":150,"y":3500},{"s":1,"x":160,"y":2500},{"s":1,"x":170,"y":5000},{"s":1,"x":180,"y":3000},{"s":1,"x":190,"y":4000},{"s":1,"x":200,"y":2500},{"s":1,"x":210,"y":3500},{"s":1,"x":220,"y":2000},{"s":1,"x":230,"y":3000},{"s":1,"x":240,"y":4200},{"s":1,"x":250,"y":2500},{"s":1,"x":260,"y":3000},{"s":1,"x":270,"y":2000},{"s":1,"x":280,"y":3500},{"s":1,"x":290,"y":4000},{"s":1,"x":300,"y":2500},{"s":1,"x":310,"y":3000},{"s":1,"x":320,"y":2500},{"s":1,"x":330,"y":3500},{"s":1,"x":340,"y":2800},{"s":1,"x":350,"y":3000},{"s":1,"x":360,"y":2200},{"s":1,"x":370,"y":3200},{"s":1,"x":380,"y":2000},{"s":1,"x":390,"y":2500},{"s":1,"x":400,"y":2200},
{"s":2,"x":0,"y":150},{"s":2,"x":10,"y":150},{"s":2,"x":20,"y":300},{"s":2,"x":30,"y":1000},{"s":2,"x":40,"y":1500},{"s":2,"x":50,"y":2500},{"s":2,"x":60,"y":3000},{"s":2,"x":70,"y":2500},{"s":2,"x":80,"y":3500},{"s":2,"x":90,"y":4500},{"s":2,"x":100,"y":3000},{"s":2,"x":110,"y":2500},{"s":2,"x":120,"y":3500},{"s":2,"x":130,"y":2000},{"s":2,"x":140,"y":2800},{"s":2,"x":150,"y":2500},{"s":2,"x":160,"y":3500},{"s":2,"x":170,"y":2000},{"s":2,"x":180,"y":4200},{"s":2,"x":190,"y":3000},{"s":2,"x":200,"y":3500},{"s":2,"x":210,"y":2500},{"s":2,"x":220,"y":4000},{"s":2,"x":230,"y":3000},{"s":2,"x":240,"y":2200},{"s":2,"x":250,"y":3000},{"s":2,"x":260,"y":3800},{"s":2,"x":270,"y":3000},{"s":2,"x":280,"y":2500},{"s":2,"x":290,"y":3000},{"s":2,"x":300,"y":2000},{"s":2,"x":310,"y":2500},{"s":2,"x":320,"y":3500},{"s":2,"x":330,"y":2000},{"s":2,"x":340,"y":2500},{"s":2,"x":350,"y":1800},{"s":2,"x":360,"y":2500},{"s":2,"x":370,"y":2000},{"s":2,"x":380,"y":3000},{"s":2,"x":390,"y":1500},{"s":2,"x":400,"y":2000},
{"s":3,"x":0,"y":150},{"s":3,"x":10,"y":200},{"s":3,"x":20,"y":200},{"s":3,"x":30,"y":500},{"s":3,"x":40,"y":1000},{"s":3,"x":50,"y":1500},{"s":3,"x":60,"y":1800},{"s":3,"x":70,"y":1500},{"s":3,"x":80,"y":1200},{"s":3,"x":90,"y":2000},{"s":3,"x":100,"y":1500},{"s":3,"x":110,"y":1000},{"s":3,"x":120,"y":1800},{"s":3,"x":130,"y":1200},{"s":3,"x":140,"y":1000},{"s":3,"x":150,"y":1500},{"s":3,"x":160,"y":1000},{"s":3,"x":170,"y":1500},{"s":3,"x":180,"y":800},{"s":3,"x":190,"y":1200},{"s":3,"x":200,"y":1000},{"s":3,"x":210,"y":1500},{"s":3,"x":220,"y":1200},{"s":3,"x":230,"y":2000},{"s":3,"x":240,"y":1500},{"s":3,"x":250,"y":1800},{"s":3,"x":260,"y":1200},{"s":3,"x":270,"y":1600},{"s":3,"x":280,"y":2200},{"s":3,"x":290,"y":1800},{"s":3,"x":300,"y":1500},{"s":3,"x":310,"y":2000},{"s":3,"x":320,"y":1200},{"s":3,"x":330,"y":1000},{"s":3,"x":340,"y":1500},{"s":3,"x":350,"y":700},{"s":3,"x":360,"y":1000},{"s":3,"x":370,"y":500},{"s":3,"x":380,"y":800},{"s":3,"x":390,"y":600},{"s":3,"x":400,"y":700},
{"s":4,"x":0,"y":150},{"s":4,"x":10,"y":200},{"s":4,"x":20,"y":500},{"s":4,"x":30,"y":1800},{"s":4,"x":40,"y":2200},{"s":4,"x":50,"y":2800},{"s":4,"x":60,"y":3500},{"s":4,"x":70,"y":3000},{"s":4,"x":80,"y":3800},{"s":4,"x":90,"y":2500},{"s":4,"x":100,"y":3200},{"s":4,"x":110,"y":3000},{"s":4,"x":120,"y":2500},{"s":4,"x":130,"y":3500},{"s":4,"x":140,"y":2200},{"s":4,"x":150,"y":3000},{"s":4,"x":160,"y":2500},{"s":4,"x":170,"y":3200},{"s":4,"x":180,"y":2000},{"s":4,"x":190,"y":2800},{"s":4,"x":200,"y":3200},{"s":4,"x":210,"y":2000},{"s":4,"x":220,"y":2500},{"s":4,"x":230,"y":1800},{"s":4,"x":240,"y":2500},{"s":4,"x":250,"y":2000},{"s":4,"x":260,"y":2800},{"s":4,"x":270,"y":2200},{"s":4,"x":280,"y":3000},{"s":4,"x":290,"y":2000},{"s":4,"x":300,"y":2500},{"s":4,"x":310,"y":1800},{"s":4,"x":320,"y":2800},{"s":4,"x":330,"y":2000},{"s":4,"x":340,"y":3000},{"s":4,"x":350,"y":2500},{"s":4,"x":360,"y":2000},{"s":4,"x":370,"y":2500},{"s":4,"x":380,"y":1500},{"s":4,"x":390,"y":2000},{"s":4,"x":400,"y":1200},
{"s":5,"x":0,"y":150},{"s":5,"x":10,"y":150},{"s":5,"x":20,"y":300},{"s":5,"x":30,"y":800},{"s":5,"x":40,"y":1500},{"s":5,"x":50,"y":2000},{"s":5,"x":60,"y":2500},{"s":5,"x":70,"y":2000},{"s":5,"x":80,"y":2800},{"s":5,"x":90,"y":2200},{"s":5,"x":100,"y":2500},{"s":5,"x":110,"y":2000},{"s":5,"x":120,"y":3000},{"s":5,"x":130,"y":2200},{"s":5,"x":140,"y":2500},{"s":5,"x":150,"y":1800},{"s":5,"x":160,"y":2200},{"s":5,"x":170,"y":2500},{"s":5,"x":180,"y":2000},{"s":5,"x":190,"y":2200},{"s":5,"x":200,"y":1800},{"s":5,"x":210,"y":2500},{"s":5,"x":220,"y":2000},{"s":5,"x":230,"y":2300},{"s":5,"x":240,"y":1800},{"s":5,"x":250,"y":2500},{"s":5,"x":260,"y":2000},{"s":5,"x":270,"y":2600},{"s":5,"x":280,"y":2000},{"s":5,"x":290,"y":2400},{"s":5,"x":300,"y":1800},{"s":5,"x":310,"y":2200},{"s":5,"x":320,"y":1600},{"s":5,"x":330,"y":2000},{"s":5,"x":340,"y":1500},{"s":5,"x":350,"y":1800},{"s":5,"x":360,"y":1400},{"s":5,"x":370,"y":1200},{"s":5,"x":380,"y":1600},{"s":5,"x":390,"y":1000},{"s":5,"x":400,"y":1400}
],
"b4": [
{"s":0,"x":0,"y":-21},{"s":0,"x":5,"y":-20.5},{"s":0,"x":10,"y":-17},{"s":0,"x":15,"y":-11},{"s":0,"x":20,"y":-8},{"s":0,"x":25,"y":-5},{"s":0,"x":30,"y":-2},{"s":0,"x":35,"y":1},{"s":0,"x":40,"y":4},{"s":0,"x":45,"y":6},{"s":0,"x":50,"y":7},{"s":0,"x":55,"y":6.5},{"s":0,"x":60,"y":6},{"s":0,"x":65,"y":5.5},{"s":0,"x":70,"y":5},{"s":0,"x":75,"y":3},{"s":0,"x":80,"y":1.5},{"s":0,"x":85,"y":-1},{"s":0,"x":90,"y":-3},{"s":0,"x":95,"y":-6},{"s":0,"x":100,"y":-7},{"s":0,"x":110,"y":-9},{"s":0,"x":120,"y":-10.5},{"s":0,"x":130,"y":-11.5},{"s":0,"x":140,"y":-12.5},{"s":0,"x":150,"y":-13},{"s":0,"x":160,"y":-13.5},{"s":0,"x":170,"y":-13.8},{"s":0,"x":180,"y":-14},{"s":0,"x":190,"y":-14.3},{"s":0,"x":200,"y":-14.6},{"s":0,"x":210,"y":-15},{"s":0,"x":220,"y":-15.2},{"s":0,"x":230,"y":-15.5},{"s":0,"x":240,"y":-15.8},{"s":0,"x":250,"y":-16},{"s":0,"x":260,"y":-16.2},{"s":0,"x":270,"y":-16.4},{"s":0,"x":280,"y":-16.6},{"s":0,"x":290,"y":-16.7},{"s":0,"x":300,"y":-16.9},{"s":0,"x":310,"y":-17},{"s":0,"x":320,"y":-17.1},{"s":0,"x":330,"y":-17.2},{"s":0,"x":340,"y":-17.3},{"s":0,"x":350,"y":-17.4},{"s":0,"x":360,"y":-17.5},{"s":0,"x":370,"y":-17.6},{"s":0,"x":380,"y":-17.8},{"s":0,"x":390,"y":-17.9},{"s":0,"x":400,"y":-18},
{"s":1,"x":0,"y":-21},{"s":1,"x":10,"y":-15},{"s":1,"x":20,"y":-5},{"s":1,"x":30,"y":2},{"s":1,"x":40,"y":8},{"s":1,"x":50,"y":12},{"s":1,"x":60,"y":10},{"s":1,"x":70,"y":8},{"s":1,"x":80,"y":3},{"s":1,"x":90,"y":-2},{"s":1,"x":100,"y":-6},{"s":1,"x":110,"y":-9},{"s":1,"x":120,"y":-10},{"s":1,"x":130,"y":-11},{"s":1,"x":140,"y":-12},{"s":1,"x":150,"y":-12.5},{"s":1,"x":160,"y":-13},{"s":1,"x":170,"y":-13},{"s":1,"x":180,"y":-13.5},{"s":1,"x":190,"y":-14},{"s":1,"x":200,"y":-14},{"s":1,"x":220,"y":-15},{"s":1,"x":240,"y":-15},{"s":1,"x":260,"y":-16},{"s":1,"x":280,"y":-16},{"s":1,"x":300,"y":-16.5},{"s":1,"x":320,"y":-17},{"s":1,"x":340,"y":-16.5},{"s":1,"x":360,"y":-17},{"s":1,"x":380,"y":-17.5},{"s":1,"x":400,"y":-17},
{"s":2,"x":0,"y":-21},{"s":2,"x":10,"y":-19},{"s":2,"x":20,"y":-10},{"s":2,"x":30,"y":-3},{"s":2,"x":40,"y":3},{"s":2,"x":50,"y":8},{"s":2,"x":60,"y":13},{"s":2,"x":70,"y":6},{"s":2,"x":80,"y":2},{"s":2,"x":90,"y":-1},{"s":2,"x":100,"y":-5},{"s":2,"x":110,"y":-8},{"s":2,"x":120,"y":-11},{"s":2,"x":130,"y":-12},{"s":2,"x":140,"y":-13},{"s":2,"x":150,"y":-14},{"s":2,"x":160,"y":-14},{"s":2,"x":170,"y":-14.5},{"s":2,"x":180,"y":-15},{"s":2,"x":190,"y":-15},{"s":2,"x":200,"y":-15.5},{"s":2,"x":220,"y":-16},{"s":2,"x":240,"y":-16.5},{"s":2,"x":260,"y":-16.5},{"s":2,"x":280,"y":-17},{"s":2,"x":300,"y":-17.5},{"s":2,"x":320,"y":-17.5},{"s":2,"x":340,"y":-18},{"s":2,"x":360,"y":-18.5},{"s":2,"x":380,"y":-18.5},{"s":2,"x":400,"y":-19},
{"s":3,"x":0,"y":-21},{"s":3,"x":10,"y":-17},{"s":3,"x":20,"y":-7},{"s":3,"x":30,"y":0},{"s":3,"x":40,"y":6},{"s":3,"x":50,"y":10},{"s":3,"x":60,"y":8},{"s":3,"x":70,"y":4},{"s":3,"x":80,"y":0},{"s":3,"x":90,"y":-4},{"s":3,"x":100,"y":-8},{"s":3,"x":110,"y":-10},{"s":3,"x":120,"y":-12},{"s":3,"x":130,"y":-12.5},{"s":3,"x":140,"y":-13.5},{"s":3,"x":150,"y":-14},{"s":3,"x":160,"y":-14.5},{"s":3,"x":170,"y":-15},{"s":3,"x":180,"y":-15},{"s":3,"x":190,"y":-15.5},{"s":3,"x":200,"y":-16},{"s":3,"x":220,"y":-16},{"s":3,"x":240,"y":-16.5},{"s":3,"x":260,"y":-17},{"s":3,"x":280,"y":-17.5},{"s":3,"x":300,"y":-17.5},{"s":3,"x":320,"y":-18},{"s":3,"x":340,"y":-18},{"s":3,"x":360,"y":-18.5},{"s":3,"x":380,"y":-19},{"s":3,"x":400,"y":-19.5},
{"s":4,"x":0,"y":-21},{"s":4,"x":10,"y":-16},{"s":4,"x":20,"y":-8},{"s":4,"x":30,"y":-1},{"s":4,"x":40,"y":4},{"s":4,"x":50,"y":6},{"s":4,"x":60,"y":11},{"s":4,"x":70,"y":7},{"s":4,"x":80,"y":4},{"s":4,"x":90,"y":0},{"s":4,"x":100,"y":-3},{"s":4,"x":110,"y":-7},{"s":4,"x":120,"y":-9},{"s":4,"x":130,"y":-10.5},{"s":4,"x":140,"y":-11.5},{"s":4,"x":150,"y":-12},{"s":4,"x":160,"y":-12.5},{"s":4,"x":170,"y":-13},{"s":4,"x":180,"y":-13},{"s":4,"x":190,"y":-13.5},{"s":4,"x":200,"y":-14},{"s":4,"x":220,"y":-14.5},{"s":4,"x":240,"y":-15},{"s":4,"x":260,"y":-15.5},{"s":4,"x":280,"y":-15.5},{"s":4,"x":300,"y":-16},{"s":4,"x":320,"y":-16.5},{"s":4,"x":340,"y":-17},{"s":4,"x":360,"y":-16.5},{"s":4,"x":380,"y":-17},{"s":4,"x":400,"y":-17.5}
],
"b5": [
{"s":0,"x":0,"y":0.5},{"s":0,"x":5,"y":6},{"s":0,"x":10,"y":12},{"s":0,"x":15,"y":16},{"s":0,"x":20,"y":19},{"s":0,"x":25,"y":21},{"s":0,"x":30,"y":20},{"s":0,"x":35,"y":18},{"s":0,"x":40,"y":17},{"s":0,"x":45,"y":18},{"s":0,"x":50,"y":15},{"s":0,"x":55,"y":14},{"s":0,"x":60,"y":13},{"s":0,"x":65,"y":12.5},{"s":0,"x":70,"y":14},{"s":0,"x":75,"y":13},{"s":0,"x":80,"y":14.5},{"s":0,"x":90,"y":14},{"s":0,"x":100,"y":15},{"s":0,"x":105,"y":16},{"s":0,"x":110,"y":15},{"s":0,"x":120,"y":14.5},{"s":0,"x":130,"y":15.5},{"s":0,"x":140,"y":15},{"s":0,"x":150,"y":16},{"s":0,"x":155,"y":15},{"s":0,"x":160,"y":15},{"s":0,"x":165,"y":14},{"s":0,"x":170,"y":14.5},{"s":0,"x":180,"y":12},{"s":0,"x":190,"y":10},{"s":0,"x":200,"y":8},{"s":0,"x":205,"y":9},{"s":0,"x":210,"y":7},{"s":0,"x":220,"y":6},{"s":0,"x":230,"y":6.5},{"s":0,"x":240,"y":5},{"s":0,"x":250,"y":4},{"s":0,"x":260,"y":3},{"s":0,"x":270,"y":2},{"s":0,"x":280,"y":1.5},{"s":0,"x":290,"y":1.2},{"s":0,"x":300,"y":1.5},{"s":0,"x":310,"y":1.3},{"s":0,"x":320,"y":1.2},{"s":0,"x":330,"y":1.5},{"s":0,"x":340,"y":1},{"s":0,"x":350,"y":1.2},{"s":0,"x":360,"y":1.3},{"s":0,"x":370,"y":1},{"s":0,"x":380,"y":1.2},{"s":0,"x":390,"y":1.5},{"s":0,"x":400,"y":1.8},
{"s":1,"x":0,"y":0.5},{"s":1,"x":10,"y":12},{"s":1,"x":20,"y":22},{"s":1,"x":30,"y":25},{"s":1,"x":40,"y":20},{"s":1,"x":50,"y":18},{"s":1,"x":60,"y":15},{"s":1,"x":70,"y":14},{"s":1,"x":80,"y":13},{"s":1,"x":90,"y":10},{"s":1,"x":100,"y":12},{"s":1,"x":110,"y":10},{"s":1,"x":120,"y":11},{"s":1,"x":130,"y":9},{"s":1,"x":140,"y":6},{"s":1,"x":150,"y":3},{"s":1,"x":160,"y":0.5},{"s":1,"x":170,"y":0.2},{"s":1,"x":180,"y":0.1},{"s":1,"x":190,"y":0.5},{"s":1,"x":200,"y":0.2},{"s":1,"x":210,"y":0.5},{"s":1,"x":220,"y":0.3},{"s":1,"x":230,"y":0.2},{"s":1,"x":240,"y":0.5},{"s":1,"x":250,"y":0.3},{"s":1,"x":260,"y":0.2},{"s":1,"x":270,"y":0.4},{"s":1,"x":280,"y":0.2},{"s":1,"x":290,"y":0.5},{"s":1,"x":300,"y":1},{"s":1,"x":320,"y":1},{"s":1,"x":340,"y":1.2},{"s":1,"x":360,"y":1},{"s":1,"x":380,"y":1.5},{"s":1,"x":400,"y":1},
{"s":2,"x":0,"y":0.5},{"s":2,"x":10,"y":10},{"s":2,"x":20,"y":18},{"s":2,"x":30,"y":20},{"s":2,"x":40,"y":16},{"s":2,"x":50,"y":14},{"s":2,"x":60,"y":12},{"s":2,"x":70,"y":14},{"s":2,"x":80,"y":15},{"s":2,"x":90,"y":14},{"s":2,"x":100,"y":16},{"s":2,"x":110,"y":15},{"s":2,"x":120,"y":17},{"s":2,"x":130,"y":16},{"s":2,"x":140,"y":18},{"s":2,"x":150,"y":17},{"s":2,"x":160,"y":16},{"s":2,"x":170,"y":18},{"s":2,"x":180,"y":16},{"s":2,"x":190,"y":14},{"s":2,"x":200,"y":15},{"s":2,"x":210,"y":12},{"s":2,"x":220,"y":11},{"s":2,"x":230,"y":12},{"s":2,"x":240,"y":10},{"s":2,"x":250,"y":11},{"s":2,"x":260,"y":9},{"s":2,"x":270,"y":2},{"s":2,"x":280,"y":1},{"s":2,"x":290,"y":2},{"s":2,"x":300,"y":3},{"s":2,"x":310,"y":2},{"s":2,"x":320,"y":1.5},{"s":2,"x":330,"y":1},{"s":2,"x":340,"y":1.5},{"s":2,"x":350,"y":1},{"s":2,"x":360,"y":0.8},{"s":2,"x":370,"y":1.2},{"s":2,"x":380,"y":1},{"s":2,"x":390,"y":1.5},{"s":2,"x":400,"y":2},
{"s":3,"x":0,"y":0.5},{"s":3,"x":10,"y":14},{"s":3,"x":20,"y":22},{"s":3,"x":30,"y":19},{"s":3,"x":40,"y":17},{"s":3,"x":50,"y":13},{"s":3,"x":60,"y":12},{"s":3,"x":70,"y":15},{"s":3,"x":80,"y":16},{"s":3,"x":90,"y":15},{"s":3,"x":100,"y":17},{"s":3,"x":110,"y":16},{"s":3,"x":120,"y":18},{"s":3,"x":130,"y":17},{"s":3,"x":140,"y":19},{"s":3,"x":150,"y":18},{"s":3,"x":160,"y":20},{"s":3,"x":170,"y":17},{"s":3,"x":180,"y":15},{"s":3,"x":190,"y":12},{"s":3,"x":200,"y":10},{"s":3,"x":210,"y":8},{"s":3,"x":220,"y":6},{"s":3,"x":230,"y":4},{"s":3,"x":240,"y":2},{"s":3,"x":250,"y":0.5},{"s":3,"x":260,"y":0.2},{"s":3,"x":270,"y":0.5},{"s":3,"x":280,"y":1},{"s":3,"x":290,"y":1.5},{"s":3,"x":300,"y":1},{"s":3,"x":310,"y":2},{"s":3,"x":320,"y":1.5},{"s":3,"x":330,"y":1},{"s":3,"x":340,"y":1.2},{"s":3,"x":350,"y":1.5},{"s":3,"x":360,"y":1},{"s":3,"x":370,"y":1.5},{"s":3,"x":380,"y":2},{"s":3,"x":390,"y":2.5},{"s":3,"x":400,"y":2},
{"s":4,"x":0,"y":0.5},{"s":4,"x":10,"y":11},{"s":4,"x":20,"y":20},{"s":4,"x":30,"y":17},{"s":4,"x":40,"y":14},{"s":4,"x":50,"y":13},{"s":4,"x":60,"y":14},{"s":4,"x":70,"y":12},{"s":4,"x":80,"y":13},{"s":4,"x":90,"y":16},{"s":4,"x":100,"y":14},{"s":4,"x":110,"y":15},{"s":4,"x":120,"y":13},{"s":4,"x":130,"y":14},{"s":4,"x":140,"y":15},{"s":4,"x":150,"y":14},{"s":4,"x":160,"y":13},{"s":4,"x":170,"y":12},{"s":4,"x":180,"y":11},{"s":4,"x":190,"y":13},{"s":4,"x":200,"y":9},{"s":4,"x":210,"y":8},{"s":4,"x":220,"y":10},{"s":4,"x":230,"y":7},{"s":4,"x":240,"y":5},{"s":4,"x":250,"y":4},{"s":4,"x":260,"y":3},{"s":4,"x":270,"y":2},{"s":4,"x":280,"y":3},{"s":4,"x":290,"y":2},{"s":4,"x":300,"y":1},{"s":4,"x":310,"y":1.5},{"s":4,"x":320,"y":2},{"s":4,"x":330,"y":1},{"s":4,"x":340,"y":0.5},{"s":4,"x":350,"y":1},{"s":4,"x":360,"y":1.5},{"s":4,"x":370,"y":1},{"s":4,"x":380,"y":0.8},{"s":4,"x":390,"y":1.2},{"s":4,"x":400,"y":1.5}
]
},
"concat": [
{"title": "Asterix", "width": 129, "height": 102, "data": {"name": "a1"},
 "encoding": {"x": {"field": "x", "type": "quantitative", "scale": {"domain": [0, 400], "nice": false}, "axis": {"values": [0, 100, 200, 300, 400], "labelOverlap": false, "title": null}},
  "y": {"field": "y", "type": "quantitative", "scale": {"domain": [-8, 478], "nice": false, "zero": false}, "axis": {"values": [0, 100, 200, 300, 400], "labelOverlap": false, "title": "srankδ(Φ), δ=0.01", "titleX": -19, "titleBaseline": "bottom"}}},
 "layer": [
  {"transform": [{"filter": "datum.s > 0"}], "mark": {"type": "line", "strokeWidth": 1, "opacity": 0.35, "color": "#d23c1e", "clip": true}, "encoding": {"detail": {"field": "s", "type": "nominal"}}},
  {"transform": [{"filter": "datum.s == 0"}], "mark": {"type": "line", "strokeWidth": 2, "clip": true}, "encoding": {"color": {"datum": "DQN", "type": "nominal", "scale": {"range": ["#d23c1e"]}, "legend": {"orient": "top-right"}}}}
 ]},
{"title": "Seaquest", "width": 129, "height": 102, "data": {"name": "a2"},
 "encoding": {"x": {"field": "x", "type": "quantitative", "scale": {"domain": [0, 400], "nice": false}, "axis": {"values": [0, 100, 200, 300, 400], "labelOverlap": false, "title": null}},
  "y": {"field": "y", "type": "quantitative", "scale": {"domain": [-11, 403], "nice": false, "zero": false}, "axis": {"values": [0, 100, 200, 300, 400], "labelOverlap": false, "title": null}}},
 "layer": [
  {"transform": [{"filter": "datum.s > 0"}], "mark": {"type": "line", "strokeWidth": 1, "opacity": 0.35, "color": "#d23c1e", "clip": true}, "encoding": {"detail": {"field": "s", "type": "nominal"}}},
  {"transform": [{"filter": "datum.s == 0"}], "mark": {"type": "line", "strokeWidth": 2, "clip": true}, "encoding": {"color": {"datum": "DQN", "type": "nominal", "scale": {"range": ["#d23c1e"]}, "legend": {"orient": "top-right"}}}}
 ]},
{"title": "Q*Bert", "width": 129, "height": 102, "data": {"name": "a3"},
 "encoding": {"x": {"field": "x", "type": "quantitative", "scale": {"domain": [0, 400], "nice": false}, "axis": {"values": [0, 100, 200, 300, 400], "labelOverlap": false, "title": null}},
  "y": {"field": "y", "type": "quantitative", "scale": {"domain": [167, 439], "nice": false, "zero": false}, "axis": {"values": [200, 250, 300, 350, 400], "labelOverlap": false, "title": null}}},
 "layer": [
  {"transform": [{"filter": "datum.s > 0"}], "mark": {"type": "line", "strokeWidth": 1, "opacity": 0.35, "color": "#d23c1e", "clip": true}, "encoding": {"detail": {"field": "s", "type": "nominal"}}},
  {"transform": [{"filter": "datum.s == 0"}], "mark": {"type": "line", "strokeWidth": 2, "clip": true}, "encoding": {"color": {"datum": "DQN", "type": "nominal", "scale": {"range": ["#d23c1e"]}, "legend": {"orient": "bottom-left"}}}}
 ]},
{"title": "Pong", "width": 129, "height": 102, "data": {"name": "a4"},
 "encoding": {"x": {"field": "x", "type": "quantitative", "scale": {"domain": [0, 400], "nice": false}, "axis": {"values": [0, 100, 200, 300, 400], "labelOverlap": false, "title": null}},
  "y": {"field": "y", "type": "quantitative", "scale": {"domain": [222, 478], "nice": false, "zero": false}, "axis": {"values": [250, 300, 350, 400, 450], "labelOverlap": false, "title": null}}},
 "layer": [
  {"transform": [{"filter": "datum.s > 0"}], "mark": {"type": "line", "strokeWidth": 1, "opacity": 0.35, "color": "#d23c1e", "clip": true}, "encoding": {"detail": {"field": "s", "type": "nominal"}}},
  {"transform": [{"filter": "datum.s == 0"}], "mark": {"type": "line", "strokeWidth": 2, "clip": true}, "encoding": {"color": {"datum": "DQN", "type": "nominal", "scale": {"range": ["#d23c1e"]}, "legend": {"orient": "top-right"}}}}
 ]},
{"title": "Breakout", "width": 129, "height": 102, "data": {"name": "a5"},
 "encoding": {"x": {"field": "x", "type": "quantitative", "scale": {"domain": [0, 400], "nice": false}, "axis": {"values": [0, 100, 200, 300, 400], "labelOverlap": false, "title": null}},
  "y": {"field": "y", "type": "quantitative", "scale": {"domain": [57, 443], "nice": false, "zero": false}, "axis": {"values": [100, 200, 300, 400], "labelOverlap": false, "title": null}}},
 "layer": [
  {"transform": [{"filter": "datum.s > 0"}], "mark": {"type": "line", "strokeWidth": 1, "opacity": 0.35, "color": "#d23c1e", "clip": true}, "encoding": {"detail": {"field": "s", "type": "nominal"}}},
  {"transform": [{"filter": "datum.s == 0"}], "mark": {"type": "line", "strokeWidth": 2, "clip": true}, "encoding": {"color": {"datum": "DQN", "type": "nominal", "scale": {"range": ["#d23c1e"]}, "legend": {"orient": "bottom-left"}}}}
 ]},
{"width": 129, "height": 105, "data": {"name": "b1"},
 "encoding": {"x": {"field": "x", "type": "quantitative", "scale": {"domain": [0, 400], "nice": false}, "axis": {"values": [0, 100, 200, 300, 400], "labelOverlap": false, "title": "Gradient Updates (x62.5k)"}},
  "y": {"field": "y", "type": "quantitative", "scale": {"domain": [48, 1308], "nice": false, "zero": false}, "axis": {"values": [200, 400, 600, 800, 1000, 1200], "labelOverlap": false, "title": "Average Return", "titleX": -24, "titleBaseline": "bottom"}}},
 "layer": [
  {"transform": [{"filter": "datum.s > 0"}], "mark": {"type": "line", "strokeWidth": 1, "opacity": 0.35, "color": "#d23c1e", "clip": true}, "encoding": {"detail": {"field": "s", "type": "nominal"}}},
  {"transform": [{"filter": "datum.s == 0"}], "mark": {"type": "line", "strokeWidth": 2, "color": "#d23c1e", "clip": true}, "encoding": {}}
 ]},
{"width": 129, "height": 105, "data": {"name": "b2"},
 "encoding": {"x": {"field": "x", "type": "quantitative", "scale": {"domain": [0, 400], "nice": false}, "axis": {"values": [0, 100, 200, 300, 400], "labelOverlap": false, "title": "Gradient Updates (x62.5k)"}},
  "y": {"field": "y", "type": "quantitative", "scale": {"domain": [-100, 1746], "nice": false, "zero": false}, "axis": {"values": [0, 500, 1000, 1500], "labelOverlap": false, "title": null}}},
 "layer": [
  {"transform": [{"filter": "datum.s > 0"}], "mark": {"type": "line", "strokeWidth": 1, "opacity": 0.35, "color": "#d23c1e", "clip": true}, "encoding": {"detail": {"field": "s", "type": "nominal"}}},
  {"transform": [{"filter": "datum.s == 0"}], "mark": {"type": "line", "strokeWidth": 2, "color": "#d23c1e", "clip": true}, "encoding": {}}
 ]},
{"width": 129, "height": 105, "data": {"name": "b3"},
 "encoding": {"x": {"field": "x", "type": "quantitative", "scale": {"domain": [0, 400], "nice": false}, "axis": {"values": [0, 100, 200, 300, 400], "labelOverlap": false, "title": "Gradient Updates (x62.5k)"}},
  "y": {"field": "y", "type": "quantitative", "scale": {"domain": [-306, 5728], "nice": false, "zero": false}, "axis": {"values": [0, 1000, 2000, 3000, 4000, 5000], "labelOverlap": false, "title": null}}},
 "layer": [
  {"transform": [{"filter": "datum.s > 0"}], "mark": {"type": "line", "strokeWidth": 1, "opacity": 0.35, "color": "#d23c1e", "clip": true}, "encoding": {"detail": {"field": "s", "type": "nominal"}}},
  {"transform": [{"filter": "datum.s == 0"}], "mark": {"type": "line", "strokeWidth": 2, "color": "#d23c1e", "clip": true}, "encoding": {}}
 ]},
{"width": 129, "height": 105, "data": {"name": "b4"},
 "encoding": {"x": {"field": "x", "type": "quantitative", "scale": {"domain": [0, 400], "nice": false}, "axis": {"values": [0, 100, 200, 300, 400], "labelOverlap": false, "title": "Gradient Updates (x62.5k)"}},
  "y": {"field": "y", "type": "quantitative", "scale": {"domain": [-22.8, 15.2], "nice": false, "zero": false}, "axis": {"values": [-20, -10, 0, 10], "labelOverlap": false, "title": null}}},
 "layer": [
  {"transform": [{"filter": "datum.s > 0"}], "mark": {"type": "line", "strokeWidth": 1, "opacity": 0.35, "color": "#d23c1e", "clip": true}, "encoding": {"detail": {"field": "s", "type": "nominal"}}},
  {"transform": [{"filter": "datum.s == 0"}], "mark": {"type": "line", "strokeWidth": 2, "color": "#d23c1e", "clip": true}, "encoding": {}}
 ]},
{"width": 129, "height": 105, "data": {"name": "b5"},
 "encoding": {"x": {"field": "x", "type": "quantitative", "scale": {"domain": [0, 400], "nice": false}, "axis": {"values": [0, 100, 200, 300, 400], "labelOverlap": false, "title": "Gradient Updates (x62.5k)"}},
  "y": {"field": "y", "type": "quantitative", "scale": {"domain": [-2, 26.3], "nice": false, "zero": false}, "axis": {"values": [0, 5, 10, 15, 20, 25], "labelOverlap": false, "title": null}}},
 "layer": [
  {"transform": [{"filter": "datum.s > 0"}], "mark": {"type": "line", "strokeWidth": 1, "opacity": 0.35, "color": "#d23c1e", "clip": true}, "encoding": {"detail": {"field": "s", "type": "nominal"}}},
  {"transform": [{"filter": "datum.s == 0"}], "mark": {"type": "line", "strokeWidth": 2, "color": "#d23c1e", "clip": true}, "encoding": {}}
 ]}
]
}
